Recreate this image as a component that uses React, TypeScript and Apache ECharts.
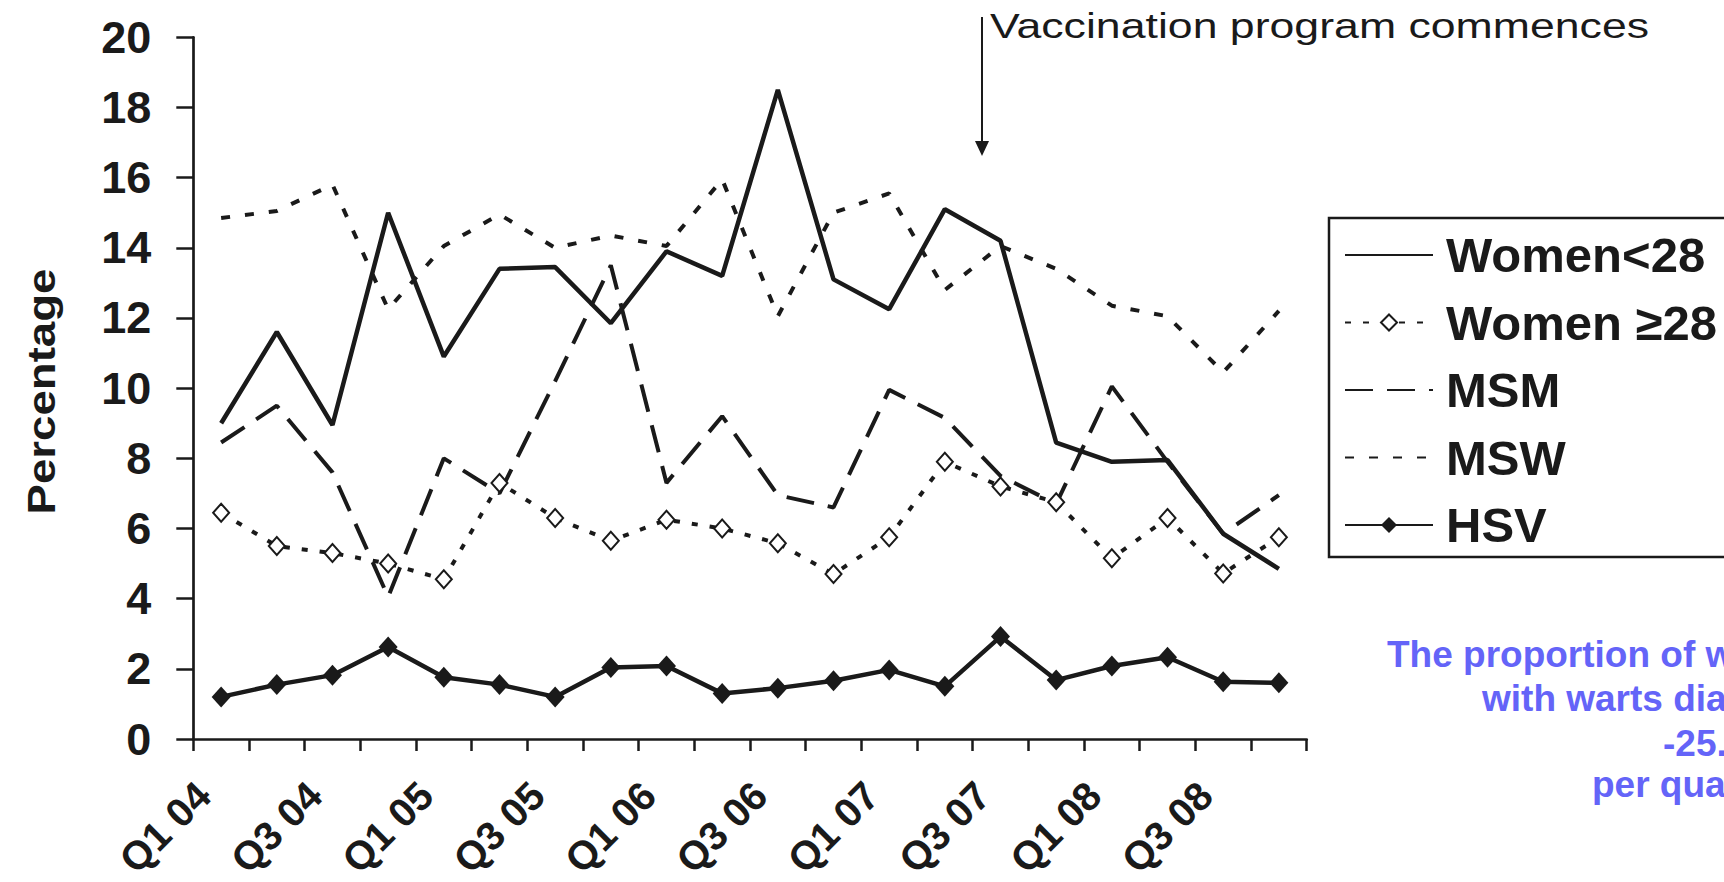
import { useEffect, useRef } from 'react';
import * as echarts from 'echarts';

const quarters = ['Q1 04','Q2 04','Q3 04','Q4 04','Q1 05','Q2 05','Q3 05','Q4 05','Q1 06','Q2 06','Q3 06','Q4 06','Q1 07','Q2 07','Q3 07','Q4 07','Q1 08','Q2 08','Q3 08','Q4 08'];
const womenUnder28 = [9.0, 11.6, 8.95, 15.0, 10.9, 13.4, 13.45, 11.85, 13.9, 13.2, 18.5, 13.1, 12.25, 15.1, 14.2, 8.45, 7.9, 7.95, 5.85, 4.85];
const women28Plus = [6.45, 5.5, 5.3, 5.0, 4.55, 7.3, 6.3, 5.65, 6.25, 6.0, 5.58, 4.7, 5.75, 7.9, 7.2, 6.75, 5.15, 6.3, 4.72, 5.75];
const msm = [8.45, 9.5, 7.6, 4.05, 8.0, 7.0, 10.2, 13.5, 7.3, 9.2, 6.95, 6.6, 9.95, 9.15, 7.5, 6.7, 10.05, 7.9, 5.85, 6.95];
const msw = [14.85, 15.05, 15.8, 12.25, 14.05, 14.95, 14.0, 14.35, 14.05, 15.95, 12.05, 15.0, 15.55, 12.8, 14.05, 13.4, 12.35, 12.05, 10.45, 12.2];
const hsv = [1.2, 1.55, 1.82, 2.62, 1.76, 1.55, 1.2, 2.04, 2.08, 1.3, 1.45, 1.66, 1.97, 1.5, 2.92, 1.68, 2.08, 2.33, 1.63, 1.6];
const seriesNames = ['Women<28', 'Women \u226528', 'MSM', 'MSW', 'HSV'];
const yMin = 0;
const yMax = 20;
const yStep = 2;
const annotation = 'Vaccination program commences';
const yTitle = 'Percentage';
const noteLines = ['The proportion of women', 'with warts diagnosed', '-25.1%', 'per quarter'];

const FONT = '"Liberation Sans", Arial, Helvetica, sans-serif';
const INK = '#1a1a1a';
const BLUE = '#6464f8';

export default function App() {
  const ref = useRef<HTMLDivElement>(null);
  useEffect(() => {
    if (!ref.current) return;
    const chart = echarts.init(ref.current, null, { renderer: 'svg' });
    const lineBase = { type: 'line' as const, animation: false, z: 3 };
    chart.setOption({
      animation: false,
      backgroundColor: '#ffffff',
      grid: {
        left: 193.3,
        right: 417.3,
        top: 37.3,
        bottom: 143,
        containLabel: false,
        outerBoundsMode: 'none',
      },
      xAxis: {
        type: 'category',
        data: quarters,
        boundaryGap: true,
        axisLine: { lineStyle: { color: INK, width: 2.7 } },
        axisTick: { show: true, interval: 0, length: 12, lineStyle: { color: INK, width: 2.5 } },
        axisLabel: {
          interval: 1,
          rotate: 45,
          margin: 32,
          padding: [0, 25, 0, 0],
          color: INK,
          fontSize: 40,
          fontWeight: 'bold',
          fontFamily: FONT,
        },
        splitLine: { show: false },
      },
      yAxis: {
        type: 'value',
        min: yMin,
        max: yMax,
        interval: yStep,
        axisLine: { show: true, lineStyle: { color: INK, width: 2.7 } },
        axisTick: { show: true, length: 17, lineStyle: { color: INK, width: 2.5 } },
        axisLabel: { margin: 42, color: INK, fontSize: 45, fontWeight: 'bold', fontFamily: FONT },
        splitLine: { show: false },
      },
      legend: {
        orient: 'vertical',
        left: 1329,
        top: 218,
        padding: [12, 40, 7, 15],
        itemWidth: 88,
        itemHeight: 20,
        itemGap: 17.5,
        borderColor: INK,
        borderWidth: 2.5,
        textStyle: {
          fontSize: 49,
          fontWeight: 'bold',
          color: INK,
          fontFamily: FONT,
          lineHeight: 50,
          padding: [0, 0, 0, 8],
        },
        data: [
          { name: seriesNames[0], itemStyle: { opacity: 0 } },
          { name: seriesNames[1], itemStyle: { color: '#ffffff', borderColor: INK, borderWidth: 2 } },
          { name: seriesNames[2], itemStyle: { opacity: 0 } },
          { name: seriesNames[3], itemStyle: { opacity: 0 } },
          { name: seriesNames[4], itemStyle: { color: INK, borderWidth: 0 } },
        ],
      },
      series: [
        {
          ...lineBase,
          name: seriesNames[0],
          data: womenUnder28,
          symbol: 'none',
          lineStyle: { color: INK, width: 4.5, type: 'solid' },
          itemStyle: { color: INK },
        },
        {
          ...lineBase,
          name: seriesNames[1],
          data: women28Plus,
          symbol: 'diamond',
          symbolSize: [16, 18],
          lineStyle: { color: INK, width: 4, type: [6, 12] },
          itemStyle: { color: '#ffffff', borderColor: INK, borderWidth: 2 },
        },
        {
          ...lineBase,
          name: seriesNames[2],
          data: msm,
          symbol: 'none',
          lineStyle: { color: INK, width: 4, type: [28, 14] },
          itemStyle: { color: INK },
        },
        {
          ...lineBase,
          name: seriesNames[3],
          data: msw,
          symbol: 'none',
          lineStyle: { color: INK, width: 4, type: [9, 15] },
          itemStyle: { color: INK },
        },
        {
          ...lineBase,
          name: seriesNames[4],
          data: hsv,
          symbol: 'diamond',
          symbolSize: [19, 21],
          lineStyle: { color: INK, width: 4.5, type: 'solid' },
          itemStyle: { color: INK },
          z: 4,
        },
      ],
      graphic: [
        {
          type: 'text',
          x: 42,
          y: 391.5,
          rotation: Math.PI / 2,
          scaleX: 1.2,
          style: {
            text: yTitle,
            fill: INK,
            fontSize: 38,
            fontWeight: 'bold',
            fontFamily: FONT,
            align: 'center',
            verticalAlign: 'middle',
          },
        },
        {
          type: 'line',
          shape: { x1: 982, y1: 17, x2: 982, y2: 143 },
          style: { stroke: INK, lineWidth: 2 },
        },
        {
          type: 'polygon',
          shape: { points: [[975, 141], [989, 141], [982, 156]] },
          style: { fill: INK },
        },
        {
          type: 'text',
          x: 990,
          y: 26,
          scaleX: 1.24,
          style: {
            text: annotation,
            fill: INK,
            fontSize: 36,
            fontFamily: FONT,
            align: 'left',
            verticalAlign: 'middle',
          },
        },
        ...noteLines.map((t, i) => ({
          type: 'text',
          x: [1387, 1482, 1663, 1592][i],
          y: [654.5, 698.7, 743.5, 784.7][i],
          style: {
            text: t,
            fill: BLUE,
            fontSize: 37,
            fontWeight: 'bold',
            fontFamily: FONT,
            align: 'left',
            verticalAlign: 'middle',
          },
        })),
      ],
    });
    return () => chart.dispose();
  }, []);
  return (
    <div
      ref={ref}
      style={{ position: 'fixed', left: 0, top: 0, width: 1724, height: 882, background: '#fff' }}
    />
  );
}
